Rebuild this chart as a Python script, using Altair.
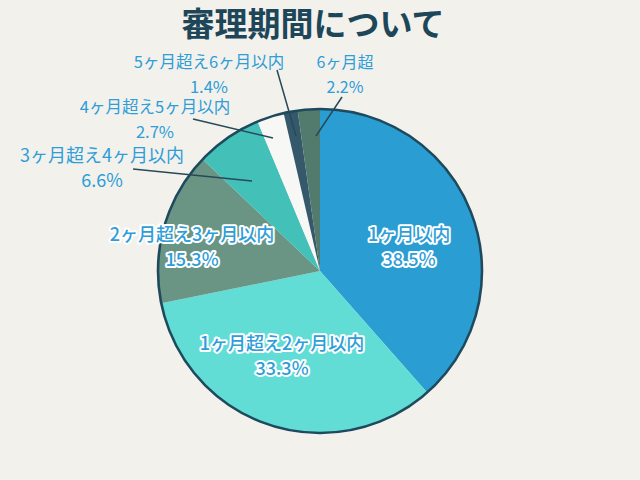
import altair as alt
import pandas as pd

# ---- data ----
categories = ["1ヶ月以内", "1ヶ月超え2ヶ月以内", "2ヶ月超え3ヶ月以内", "3ヶ月超え4ヶ月以内",
              "4ヶ月超え5ヶ月以内", "5ヶ月超え6ヶ月以内", "6ヶ月超"]
values = [38.5, 33.3, 15.3, 6.6, 2.7, 1.4, 2.2]
pct_labels = ["38.5%", "33.3%", "15.3%", "6.6%", "2.7%", "1.4%", "2.2%"]
colors = ["#2a9dd2", "#62ddd6", "#6a9585", "#43c1b9", "#f7f7f6", "#35596b", "#527b6e"]

# ---- label layout (pixels) ----
label_x = [409, 282, 192, 102, 155, 209, 345]
label_y = [236, 345, 236, 157, 108, 63, 63]
label_size = [18, 18, 18, 18, 16.5, 16.5, 16]
inside = [True, True, True, False, False, False, False]
lead_x1 = [133, 193, 277, 342]
lead_y1 = [169, 119, 70, 97]
lead_x2 = [252, 273, 296, 316]
lead_y2 = [181, 138, 136, 136]

CX, CY, R = 320, 271, 162
FONT = "Noto Sans CJK JP"
TEXT_COLOR = "#2e9dd8"
DARK = "#1e4a5e"

df = pd.DataFrame({
    "cat": categories, "value": values, "pct": pct_labels, "order": list(range(len(values))),
    "lx": label_x, "ly": label_y, "ly2": [y + 25 for y in label_y], "inside": inside,
    "fs": label_size,
})
lines = pd.DataFrame({"x1": lead_x1, "y1": lead_y1, "x2": lead_x2, "y2": lead_y2})

base = alt.Chart(df)

pie = base.mark_arc(radius=R, stroke=None).encode(
    theta=alt.Theta("value:Q", stack=True),
    order=alt.Order("order:Q"),
    color=alt.Color("cat:N", sort=categories,
                    scale=alt.Scale(domain=categories, range=colors), legend=None),
    x=alt.value(CX), y=alt.value(CY),
)

ring = alt.Chart(pd.DataFrame({"v": [1]})).mark_point(
    shape="circle", filled=False, stroke=DARK, strokeWidth=2.6, opacity=1,
    size=(2 * R) ** 2
).encode(x=alt.value(CX), y=alt.value(CY))

leaders = alt.Chart(lines).mark_rule(color="#27495a", strokeWidth=1.5).encode(
    x=alt.X("x1:Q", scale=None), y=alt.Y("y1:Q", scale=None),
    x2="x2:Q", y2="y2:Q",
)

def text_layer(field, yfield, filt, halo):
    layers = []
    src = base.transform_filter(filt)
    enc = dict(x=alt.X("lx:Q", scale=None), y=alt.Y(f"{yfield}:Q", scale=None),
               text=f"{field}:N", size=alt.Size("fs:Q", scale=None, legend=None))
    if halo:
        layers.append(src.mark_text(font=FONT, fontWeight=500, stroke="white",
                                    strokeWidth=4, strokeJoin="round", fill="white",
                                    baseline="middle", align="center").encode(**enc))
    layers.append(src.mark_text(font=FONT, fontWeight=500 if halo else 400,
                                fill=TEXT_COLOR, baseline="middle", align="center").encode(**enc))
    return layers

inside_f = alt.datum.inside == True
outside_f = alt.datum.inside == False

texts = []
texts += text_layer("cat", "ly", inside_f, True)
texts += text_layer("pct", "ly2", inside_f, True)
texts += text_layer("cat", "ly", outside_f, False)
texts += text_layer("pct", "ly2", outside_f, False)

title = alt.Chart(pd.DataFrame({"t": ["審理期間について"]})).mark_text(
    font=FONT, fontSize=33, fontWeight="bold", color="#1d4659", baseline="middle", align="center"
).encode(text="t:N", x=alt.value(313), y=alt.value(26))

chart = alt.layer(pie, ring, leaders, *texts, title).properties(
    width=640, height=480, padding=0, autosize="none", background="#f2f1ec"
).configure_view(stroke=None)

chart.save("out.html", embed_options={"renderer": "svg", "actions": False})
